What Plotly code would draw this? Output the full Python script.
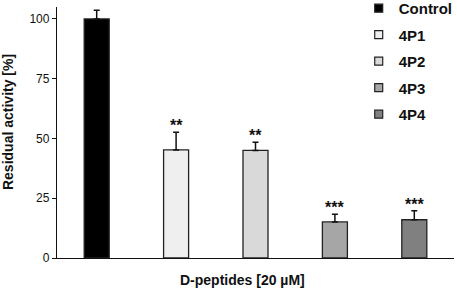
import plotly.graph_objects as go

categories = ["Control", "4P1", "4P2", "4P3", "4P4"]
values = [100, 45.2, 45.0, 15.1, 16.0]
errors = [3.6, 7.4, 3.4, 3.2, 3.8]
stars = ["", "**", "**", "***", "***"]
colors = ["#000000", "#efefef", "#d9d9d9", "#a6a6a6", "#808080"]

FONT = "Arial, Liberation Sans, sans-serif"

fig = go.Figure()
for c, v, e, col in zip(categories, values, errors, colors):
    fig.add_trace(go.Bar(
        x=[c], y=[v], name=c, width=0.315, showlegend=False, legendgroup=c,
        marker=dict(color=col, line=dict(color="#222222", width=1.3)),
        error_y=dict(type="data", array=[e], arrayminus=[0], symmetric=False,
                     color="#111111", thickness=1.5, width=3),
    ))
# legend entries (small square swatches)
for c, col in zip(categories, colors):
    fig.add_trace(go.Scatter(
        x=[None], y=[None], mode="markers", name="<b>" + c + "</b>", legendgroup=c,
        marker=dict(symbol="square", size=8, color=col,
                    line=dict(color="#222222", width=1.2)),
    ))

for c, v, e, s in zip(categories, values, errors, stars):
    if s:
        fig.add_annotation(x=c, y=v + e, text="<b>" + s + "</b>", showarrow=False,
                           yanchor="bottom", yshift=-4,
                           font=dict(family=FONT, size=16, color="#111111"))

fig.add_annotation(xref="paper", yref="paper", x=-0.122, y=0.54, xanchor="center",
                   yanchor="middle",
                   text="<b>Residual activity [%]</b>", textangle=-90, showarrow=False,
                   font=dict(family=FONT, size=14, color="#111111"))
fig.add_annotation(xref="paper", yref="paper", x=0.467, y=-0.087, yanchor="middle",
                   text="<b>D-peptides [20 µM]</b>", showarrow=False,
                   font=dict(family=FONT, size=14, color="#111111"))

fig.update_layout(
    width=457, height=290,
    margin=dict(l=57, r=3, t=7, b=32, autoexpand=False),
    plot_bgcolor="white", paper_bgcolor="white",
    barmode="overlay",
    showlegend=True,
    legend=dict(x=0.76, y=1.06, xanchor="left", yanchor="top",
                font=dict(family=FONT, size=15, color="#111111"),
                bgcolor="rgba(0,0,0,0)", traceorder="grouped", tracegroupgap=4,
                itemwidth=30, itemclick=False, itemdoubleclick=False),
    xaxis=dict(showticklabels=False, ticks="", showline=True, linecolor="#111111",
               linewidth=1.3, range=[-0.5, 4.5], categoryorder="array",
               categoryarray=categories),
    yaxis=dict(range=[0, 105], tickvals=[0, 25, 50, 75, 100], ticks="outside",
               ticklen=4, tickwidth=1.3, tickcolor="#111111",
               showline=True, linecolor="#111111", linewidth=1.3, showgrid=False,
               zeroline=False,
               tickfont=dict(family=FONT, size=12, color="#111111"),
               tickprefix="<b>", ticksuffix="</b>"),
)

fig.write_html("out.html", config={"displayModeBar": False},
               post_script="document.body.style.margin='0';document.body.style.overflow='hidden';")
